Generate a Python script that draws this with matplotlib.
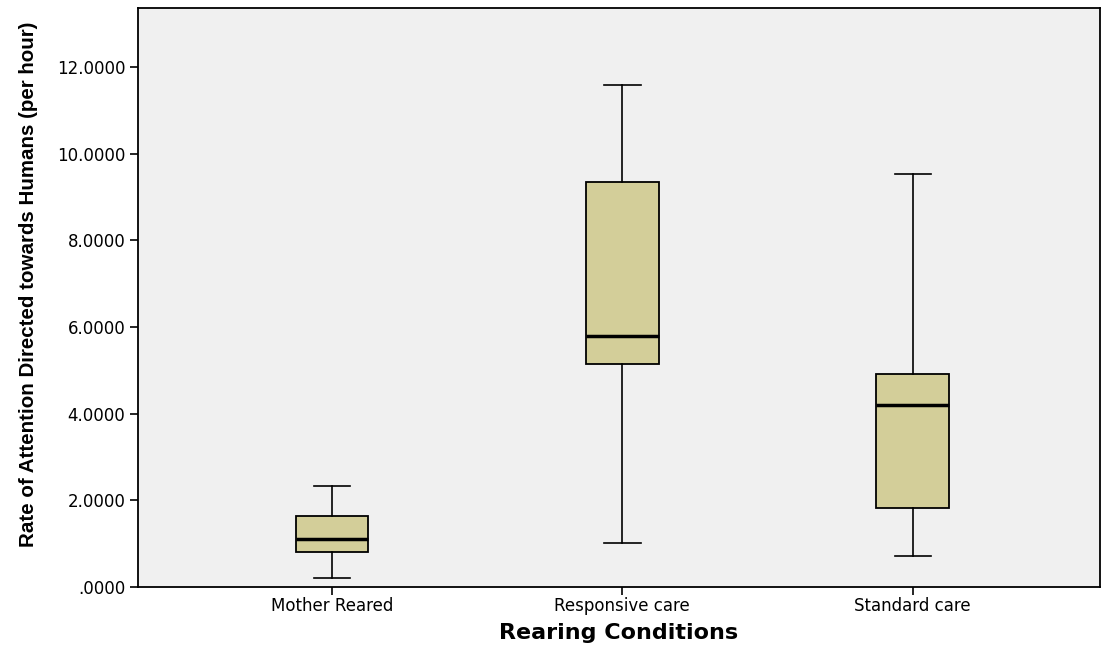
import matplotlib
matplotlib.use("Agg")
import matplotlib.pyplot as plt

groups = ["Mother Reared", "Responsive care", "Standard care"]
whislo = [0.21, 1.02, 0.72]
q1 = [0.81, 5.15, 1.82]
medians = [1.11, 5.79, 4.20]
q3 = [1.64, 9.35, 4.92]
whishi = [2.33, 11.59, 9.53]
yticks = [0, 2, 4, 6, 8, 10, 12]
ytick_labels = [".0000", "2.0000", "4.0000", "6.0000", "8.0000", "10.0000", "12.0000"]

stats = []
for i, g in enumerate(groups):
    stats.append(dict(label=g, whislo=whislo[i], q1=q1[i], med=medians[i],
                      q3=q3[i], whishi=whishi[i], fliers=[]))

fig = plt.figure(figsize=(11.02, 6.5), dpi=100)
ax = fig.add_axes([0.1252, 0.0969, 0.8728, 0.8908])
ax.set_facecolor("#f0f0f0")

ax.bxp(stats, positions=[1, 2, 3], widths=0.25, patch_artist=True, showfliers=False,
       boxprops=dict(facecolor="#d3ce99", edgecolor="black", linewidth=1.3),
       medianprops=dict(color="black", linewidth=2.5),
       whiskerprops=dict(color="black", linewidth=1.2),
       capprops=dict(color="black", linewidth=1.2),
       capwidths=0.125)

ax.set_xlim(0.332, 3.644)
ax.set_ylim(0, 13.36)
ax.set_yticks(yticks)
ax.set_yticklabels(ytick_labels, fontfamily="DejaVu Sans", fontsize=12)
ax.set_xticks([1, 2, 3])
ax.set_xticklabels(groups, fontfamily="DejaVu Sans", fontsize=12)
ax.tick_params(direction="out", length=6, width=1.2, colors="black", pad=3)
ax.tick_params(axis="x", pad=1)
for s in ax.spines.values():
    s.set_linewidth(1.3)

ax.set_xlabel("Rearing Conditions", fontfamily="DejaVu Sans", fontweight="bold",
              fontsize=16, labelpad=6)
ax.set_ylabel("Rate of Attention Directed towards Humans (per hour)",
              fontfamily="Liberation Sans", fontweight="bold", fontsize=14.8)
ax.yaxis.set_label_coords(-0.104, 0.523)

fig.savefig("out.png", dpi=100)
